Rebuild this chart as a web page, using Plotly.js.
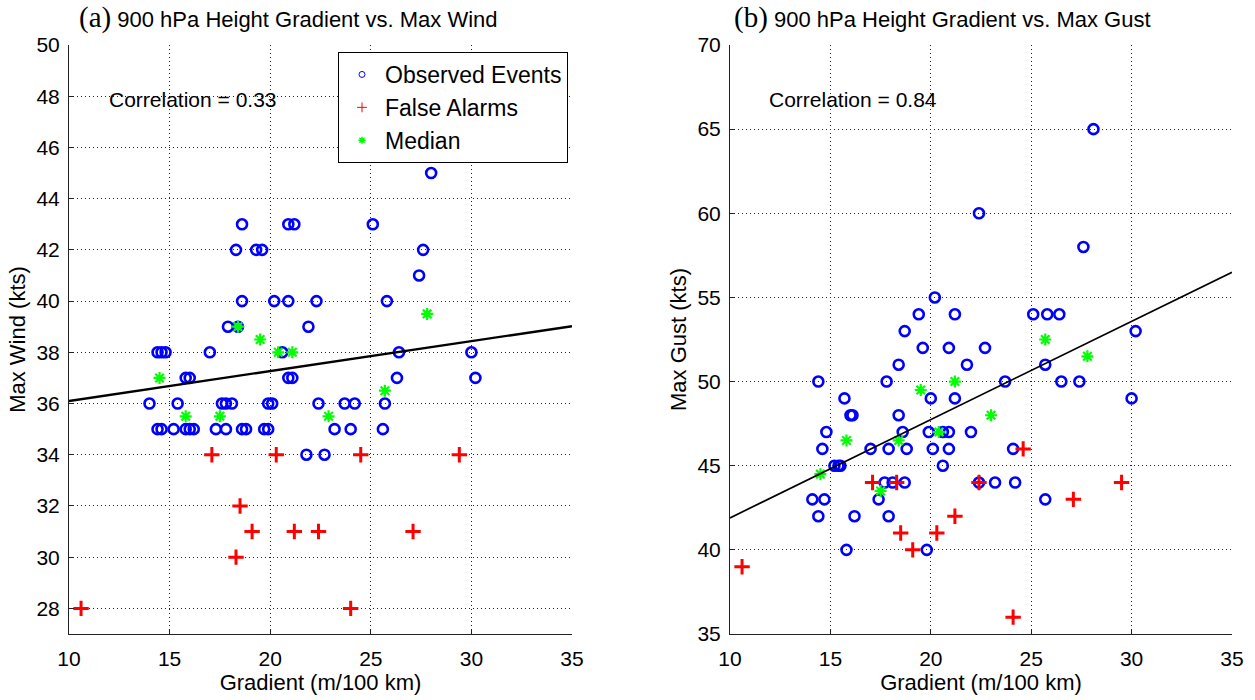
<!DOCTYPE html>
<html>
<head>
<meta charset="utf-8">
<script src="https://cdn.plot.ly/plotly-3.0.1.min.js"></script>
<style>html,body{margin:0;padding:0;background:#fff;}#chart{width:1255px;height:700px;}</style>
</head>
<body>
<div id="chart"></div>
<script>
// ---- (a) 900 hPa Height Gradient vs. Max Wind ----
var windObsX = [18.6,20.9,21.2,18.3,19.3,19.6,18.6,20.2,20.9,22.3,17.9,18.4,21.9,14.4,14.6,14.8,17.0,20.6,15.8,16.0,20.9,21.1,14.0,15.4,17.6,17.8,18.1,19.9,20.1,22.4,14.4,14.6,15.2,15.8,16.0,16.2,17.3,17.8,18.6,18.8,19.7,19.9,21.8,22.7,28.0,25.1,27.6,27.4,25.8,26.4,30.0,26.3,30.2,23.7,24.2,25.7,23.2,24.0,25.6];
var windObsY = [43,43,43,42,42,42,40,40,40,40,39,39,39,38,38,38,38,38,37,37,37,37,36,36,36,36,36,36,36,36,35,35,35,35,35,35,35,35,35,35,35,35,34,34,45,43,42,41,40,38,38,37,37,36,36,36,35,35,35];
var windFaX = [10.6,17.1,18.5,18.3,19.1,20.3,21.2,22.4,24.0,24.5,27.1,29.4];
var windFaY = [28,34,32,30,31,34,31,31,28,34,31,34];
var windMedX = [14.5,15.8,17.5,18.4,19.5,20.4,21.1,22.9,25.7,27.8];
var windMedY = [37,35.5,35.5,39,38.5,38,38,35.5,36.5,39.5];
var windFitX = [10,35];
var windFitY = [36.1,39.02];

// ---- (b) 900 hPa Height Gradient vs. Max Gust ----
var gustObsX = [20.2,19.4,21.2,18.7,19.6,20.9,18.4,14.4,17.8,15.7,20.0,21.2,16.0,16.1,18.4,14.8,18.6,19.9,20.6,20.9,14.6,17.0,17.9,18.8,20.1,20.9,15.2,15.4,15.5,20.6,17.7,18.1,18.7,14.1,14.7,17.4,14.4,16.2,17.9,15.8,19.8,28.1,22.4,27.6,25.1,25.8,26.4,30.2,22.7,21.8,25.7,23.7,26.5,27.4,30.0,22.0,24.1,22.4,23.2,24.2,25.7];
var gustObsY = [55,54,54,53,52,52,51,50,50,49,49,49,48,48,48,47,47,47,47,47,46,46,46,46,46,46,45,45,45,45,44,44,44,43,43,43,42,42,42,40,40,65,60,58,54,54,54,53,52,51,51,50,50,50,49,47,46,44,44,44,43];
var gustFaX = [10.6,17.1,18.3,18.5,19.1,20.3,21.2,22.4,24.6,27.1,29.5,24.1];
var gustFaY = [39,44,44,41,40,41,42,44,46,43,44,36];
var gustMedX = [14.5,15.8,17.5,18.4,19.5,20.4,21.2,23.0,25.7,27.8];
var gustMedY = [44.5,46.5,43.5,46.5,49.5,47,50,48,52.5,51.5];
var gustFitX = [10,35];
var gustFitY = [41.9,56.5];

var seriesNames = ['Observed Events','False Alarms','Median'];
var titleA = '900 hPa Height Gradient vs. Max Wind';
var titleB = '900 hPa Height Gradient vs. Max Gust';
var corrA = 'Correlation = 0.33';
var corrB = 'Correlation = 0.84';

var BLUE='#0000ff', RED='#ff0000', GREEN='#00ff00';
function obs(x,y,xa,ya){return {type:'scatter',mode:'markers',x:x,y:y,xaxis:xa,yaxis:ya,showlegend:false,
  marker:{symbol:'circle-open',size:10,color:BLUE,line:{width:2.6,color:BLUE}}};}
function fa(x,y,xa,ya){return {type:'scatter',mode:'markers',x:x,y:y,xaxis:xa,yaxis:ya,showlegend:false,
  marker:{symbol:'cross-thin-open',size:11,color:RED,line:{width:3,color:RED}}};}
function med(x,y,xa,ya){return {type:'scatter',mode:'markers',x:x,y:y,xaxis:xa,yaxis:ya,showlegend:false,
  marker:{symbol:'asterisk-open',size:10,color:GREEN,line:{width:2.2,color:GREEN}}};}
function fit(x,y,xa,ya,w){return {type:'scatter',mode:'lines',x:x,y:y,xaxis:xa,yaxis:ya,showlegend:false,
  line:{color:'#000',width:w}};}

var data = [
  obs(windObsX,windObsY,'x','y'), fa(windFaX,windFaY,'x','y'), med(windMedX,windMedY,'x','y'), fit(windFitX,windFitY,'x','y',2.4),
  obs(gustObsX,gustObsY,'x2','y2'), fa(gustFaX,gustFaY,'x2','y2'), med(gustMedX,gustMedY,'x2','y2'), fit(gustFitX,gustFitY,'x2','y2',1.7),
  // legend entries (small markers as in the original legend)
  {type:'scatter',mode:'markers',x:[null],y:[null],name:seriesNames[0],legendgroup:'g1',xaxis:'x',yaxis:'y',marker:{symbol:'circle-open',size:6,color:BLUE,line:{width:1,color:BLUE}}},
  {type:'scatter',mode:'markers',x:[null],y:[null],name:seriesNames[1],legendgroup:'g2',xaxis:'x',yaxis:'y',marker:{symbol:'cross-thin-open',size:7,color:RED,line:{width:1,color:RED}}},
  {type:'scatter',mode:'markers',x:[null],y:[null],name:seriesNames[2],legendgroup:'g3',xaxis:'x',yaxis:'y',marker:{symbol:'asterisk-open',size:6,color:GREEN,line:{width:1.5,color:GREEN}}}
];

var FONT = 'Liberation Sans, Arial, sans-serif';
var W=1255, H=700;
function ax(extra){
  var base = {showline:true,linecolor:'#222',linewidth:1,ticks:'inside',ticklen:5,tickcolor:'#222',
    showgrid:true,gridcolor:'#222',griddash:'1px,3px',gridwidth:1,zeroline:false,
    tickfont:{family:FONT,size:21,color:'#000'},automargin:false,fixedrange:true};
  for(var k in extra) base[k]=extra[k];
  return base;
}
var yTop = 1-45/H, yBot = 1-634/H;
var layout = {
  width:W,height:H,margin:{l:0,r:0,t:0,b:0},paper_bgcolor:'#fff',plot_bgcolor:'#fff',
  font:{family:FONT,size:21,color:'#000'},
  showlegend:true,
  legend:{x:338/W,y:1-52/H,xanchor:'left',yanchor:'top',bordercolor:'#000',borderwidth:1,bgcolor:'#fff',
    font:{family:FONT,size:23,color:'#000'},itemwidth:36,tracegroupgap:0,traceorder:'grouped'},
  xaxis: ax({domain:[69/W,572/W],range:[10,35],tick0:10,dtick:5,anchor:'y',ticklabelstandoff:6,
    title:{text:'Gradient (m/100 km)',font:{family:FONT,size:22},standoff:2}}),
  yaxis: ax({domain:[yBot,yTop],range:[27,50],tick0:28,dtick:2,anchor:'x',ticklabelstandoff:4,
    title:{text:'Max Wind (kts)',font:{family:FONT,size:22},standoff:4}}),
  xaxis2: ax({domain:[730/W,1232/W],range:[10,35],tick0:10,dtick:5,anchor:'y2',ticklabelstandoff:6,
    title:{text:'Gradient (m/100 km)',font:{family:FONT,size:22},standoff:2}}),
  yaxis2: ax({domain:[yBot,yTop],range:[35,70],tick0:35,dtick:5,anchor:'x2',ticklabelstandoff:4,
    title:{text:'Max Gust (kts)',font:{family:FONT,size:22},standoff:4}}),
  annotations:[
    {xref:'paper',yref:'paper',x:288/W,y:1-18/H,xanchor:'center',yanchor:'middle',showarrow:false,
      text:'<span style="font-family:Liberation Serif,Times New Roman,serif;font-size:29px">(a)</span> '+titleA,font:{family:FONT,size:22}},
    {xref:'paper',yref:'paper',x:942/W,y:1-18/H,xanchor:'center',yanchor:'middle',showarrow:false,
      text:'<span style="font-family:Liberation Serif,Times New Roman,serif;font-size:29px">(b)</span> '+titleB,font:{family:FONT,size:22}},
    {xref:'paper',yref:'paper',x:107/W,y:1-100/H,xanchor:'left',yanchor:'middle',showarrow:false,text:corrA,font:{family:FONT,size:21}},
    {xref:'paper',yref:'paper',x:767/W,y:1-100/H,xanchor:'left',yanchor:'middle',showarrow:false,text:corrB,font:{family:FONT,size:21}}
  ]
};
Plotly.newPlot('chart',data,layout,{staticPlot:true,displayModeBar:false});
</script>
</body>
</html>
